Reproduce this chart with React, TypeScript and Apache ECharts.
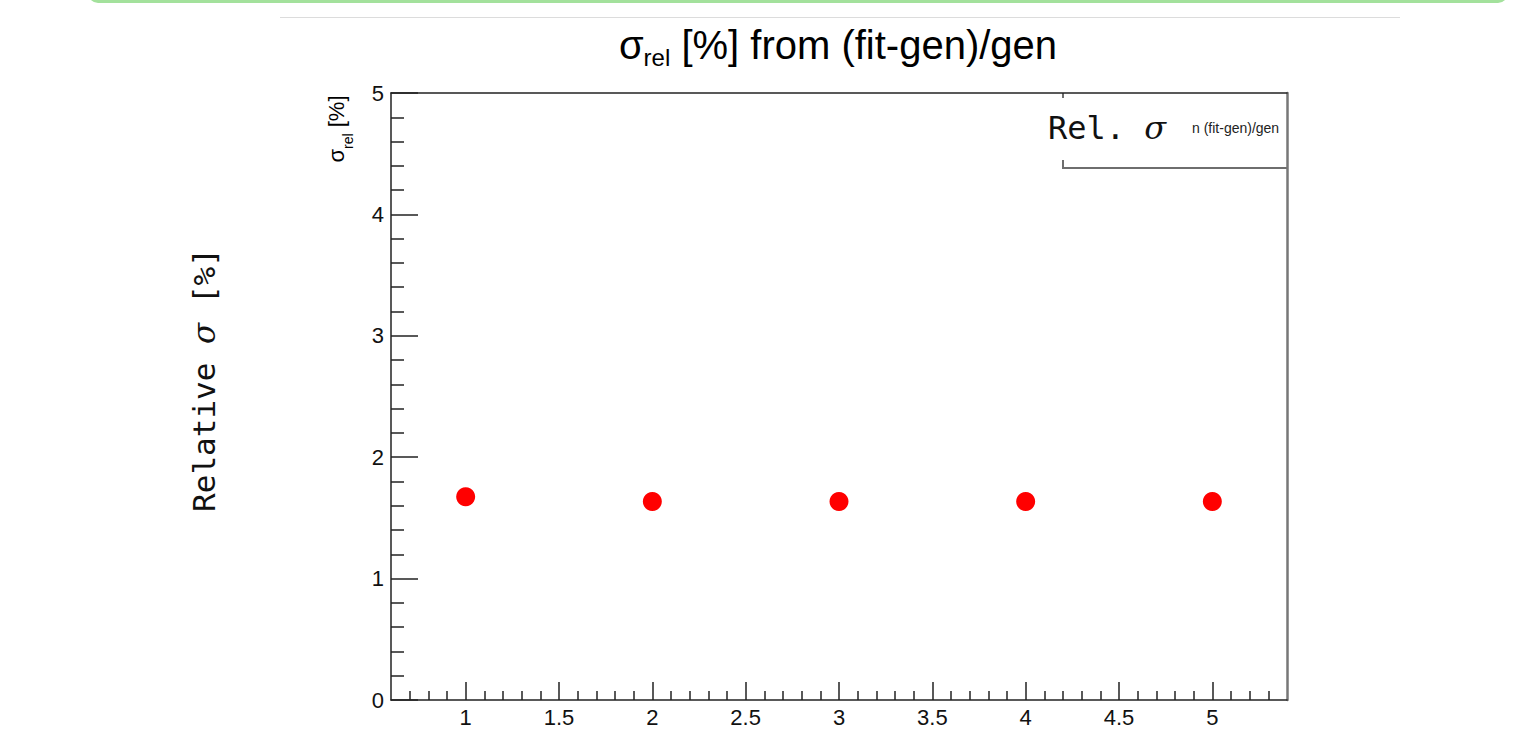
import React, { useEffect, useRef } from "react";
import * as echarts from "echarts";

// ---- data ----
const xValues = [1, 2, 3, 4, 5];
const sigmaRel = [1.675, 1.635, 1.635, 1.635, 1.635];

const X_MIN = 0.6;
const X_MAX = 5.4;
const xMajorTicks = [1, 1.5, 2, 2.5, 3, 3.5, 4, 4.5, 5];
const xMinorTicks = [
  0.7, 0.8, 0.9, 1.1, 1.2, 1.3, 1.4, 1.6, 1.7, 1.8, 1.9, 2.1, 2.2, 2.3, 2.4,
  2.6, 2.7, 2.8, 2.9, 3.1, 3.2, 3.3, 3.4, 3.6, 3.7, 3.8, 3.9, 4.1, 4.2, 4.3,
  4.4, 4.6, 4.7, 4.8, 4.9, 5.1, 5.2, 5.3,
];
const Y_MIN = 0;
const Y_MAX = 5;

const SANS = "'Liberation Sans', Arial, Helvetica, sans-serif";
const MONO = "'DejaVu Sans Mono', monospace";
const SERIF = "'DejaVu Serif', serif";
const AX = "#222";

export default function App() {
  const ref = useRef<HTMLDivElement>(null);

  useEffect(() => {
    if (!ref.current) return;
    const chart = echarts.init(ref.current, undefined, { renderer: "svg" });
    const option: any = {
      animation: false,
      backgroundColor: "#fff",
      grid: { left: 391, top: 93, width: 896, height: 607 },
      xAxis: [
        {
          type: "value",
          min: X_MIN,
          max: X_MAX,
          position: "bottom",
          axisLine: { show: true, onZero: false, lineStyle: { color: AX, width: 1.5 } },
          axisTick: { show: true, inside: true, length: 18, customValues: xMajorTicks, lineStyle: { color: AX, width: 1.5 } },
          axisLabel: { customValues: xMajorTicks, margin: 6, fontSize: 22, color: "#111", fontFamily: SANS },
          splitLine: { show: false },
        },
        {
          type: "value",
          min: X_MIN,
          max: X_MAX,
          position: "bottom",
          axisLine: { show: false },
          axisTick: { show: true, inside: true, length: 9, customValues: xMinorTicks, lineStyle: { color: AX, width: 1.5 } },
          axisLabel: { show: false },
          splitLine: { show: false },
        },
        {
          type: "value",
          min: X_MIN,
          max: X_MAX,
          position: "top",
          axisLine: { show: true, onZero: false, lineStyle: { color: AX, width: 1.5 } },
          axisTick: { show: false },
          axisLabel: { show: false },
          splitLine: { show: false },
        },
      ],
      yAxis: [
        {
          type: "value",
          min: Y_MIN,
          max: Y_MAX,
          interval: 1,
          position: "left",
          axisLine: { show: true, onZero: false, lineStyle: { color: AX, width: 1.5 } },
          axisTick: { show: true, inside: true, length: 27, lineStyle: { color: AX, width: 1.5 } },
          minorTick: { show: true, splitNumber: 5, length: 13, lineStyle: { color: AX, width: 1.5 } },
          axisLabel: { margin: 7, fontSize: 22, color: "#111", fontFamily: SANS },
          splitLine: { show: false },
        },
        {
          type: "value",
          min: Y_MIN,
          max: Y_MAX,
          position: "right",
          axisLine: { show: true, onZero: false, lineStyle: { color: "#777", width: 2.5 } },
          axisTick: { show: false },
          axisLabel: { show: false },
          splitLine: { show: false },
        },
      ],
      series: [
        {
          type: "scatter",
          xAxisIndex: 0,
          yAxisIndex: 0,
          symbol: "circle",
          symbolSize: 19,
          itemStyle: { color: "#ff0000", opacity: 1 },
          data: xValues.map((x, i) => [x, sigmaRel[i]]),
        },
      ],
      graphic: [
        {
          type: "rect",
          shape: { x: 88, y: -20, width: 1420, height: 23, r: 10 },
          style: { fill: "#a3e19c" },
        },
        {
          type: "line",
          shape: { x1: 280, y1: 17.5, x2: 1400, y2: 17.5 },
          style: { stroke: "#dcdcdc", lineWidth: 1 },
        },
        {
          type: "text",
          x: 838,
          y: 45,
          style: {
            text: "{s|σ}{sub|rel}{m| [%] from (fit-gen)/gen}",
            align: "center",
            verticalAlign: "middle",
            rich: {
              s: { fontSize: 40, fontFamily: SANS, lineHeight: 48, fill: "#000" },
              m: { fontSize: 40, fontFamily: SANS, lineHeight: 48, fill: "#000" },
              sub: { fontSize: 24, fontFamily: SANS, lineHeight: 22, verticalAlign: "bottom", fill: "#000" },
            },
          },
        },
        {
          type: "text",
          x: 336,
          y: 129,
          rotation: Math.PI / 2,
          style: {
            text: "{s|σ}{sub|rel}{m| [%]}",
            align: "center",
            verticalAlign: "middle",
            rich: {
              s: { fontSize: 22, fontFamily: SANS, lineHeight: 38, fill: "#000" },
              m: { fontSize: 22, fontFamily: SANS, lineHeight: 38, fill: "#000" },
              sub: { fontSize: 14, fontFamily: SANS, lineHeight: 13, verticalAlign: "bottom", fill: "#000" },
            },
          },
        },
        {
          type: "text",
          x: 204,
          y: 380,
          rotation: Math.PI / 2,
          style: {
            text: "{m|Relative }{g|σ}{m| [%]}",
            align: "center",
            verticalAlign: "middle",
            rich: {
              m: { fontSize: 31, fontFamily: MONO, fill: "#111" },
              g: { fontSize: 31, fontFamily: SERIF, fontStyle: "italic", fill: "#111" },
            },
          },
        },
        {
          type: "polyline",
          shape: { points: [[1063, 93], [1063, 98]] },
          style: { stroke: "#6e6e6e", lineWidth: 2, fill: "none" },
        },
        {
          type: "polyline",
          shape: { points: [[1063, 160], [1063, 168], [1287, 168]] },
          style: { stroke: "#6e6e6e", lineWidth: 2, fill: "none" },
        },
        {
          type: "text",
          x: 1048,
          y: 128,
          style: {
            text: "{m|Rel. }{g|σ}",
            align: "left",
            verticalAlign: "middle",
            rich: {
              m: { fontSize: 32, fontFamily: MONO, fill: "#111" },
              g: { fontSize: 32, fontFamily: SERIF, fontStyle: "italic", fill: "#111" },
            },
          },
        },
        {
          type: "text",
          x: 1192,
          y: 128,
          style: {
            text: "n (fit-gen)/gen",
            align: "left",
            verticalAlign: "middle",
            fontSize: 14,
            fontFamily: SANS,
            fill: "#222",
          },
        },
      ],
    };
    chart.setOption(option);
    return () => chart.dispose();
  }, []);

  return (
    <div
      ref={ref}
      style={{ position: "absolute", left: 0, top: 0, width: 1530, height: 731 }}
    />
  );
}
